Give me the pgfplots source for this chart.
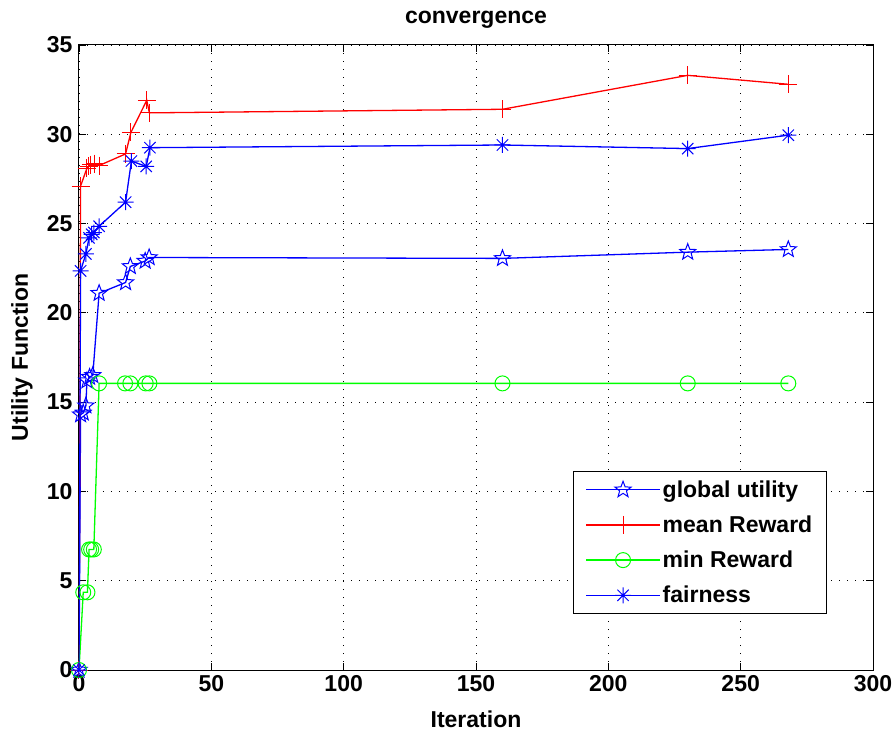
\documentclass[border=0pt]{standalone}
\usepackage{pgfplots}
\pgfplotsset{compat=1.18}
\usepackage{fontspec}
\setmainfont{Liberation Sans}
\usetikzlibrary{plotmarks}

\pgfdeclareplotmark{pentagram}{%
  \pgfpathmoveto{\pgfpointpolar{90}{\pgfplotmarksize}}%
  \pgfpathlineto{\pgfpointpolar{126}{0.42\pgfplotmarksize}}%
  \pgfpathlineto{\pgfpointpolar{162}{\pgfplotmarksize}}%
  \pgfpathlineto{\pgfpointpolar{198}{0.42\pgfplotmarksize}}%
  \pgfpathlineto{\pgfpointpolar{234}{\pgfplotmarksize}}%
  \pgfpathlineto{\pgfpointpolar{270}{0.42\pgfplotmarksize}}%
  \pgfpathlineto{\pgfpointpolar{306}{\pgfplotmarksize}}%
  \pgfpathlineto{\pgfpointpolar{342}{0.42\pgfplotmarksize}}%
  \pgfpathlineto{\pgfpointpolar{18}{\pgfplotmarksize}}%
  \pgfpathlineto{\pgfpointpolar{54}{0.42\pgfplotmarksize}}%
  \pgfpathclose\pgfusepathqstroke}

\pgfdeclareplotmark{matast}{%
  \pgfpathmoveto{\pgfpoint{-\pgfplotmarksize}{0pt}}%
  \pgfpathlineto{\pgfpoint{\pgfplotmarksize}{0pt}}%
  \pgfpathmoveto{\pgfpoint{0pt}{-\pgfplotmarksize}}%
  \pgfpathlineto{\pgfpoint{0pt}{\pgfplotmarksize}}%
  \pgfpathmoveto{\pgfpoint{-0.707\pgfplotmarksize}{-0.707\pgfplotmarksize}}%
  \pgfpathlineto{\pgfpoint{0.707\pgfplotmarksize}{0.707\pgfplotmarksize}}%
  \pgfpathmoveto{\pgfpoint{-0.707\pgfplotmarksize}{0.707\pgfplotmarksize}}%
  \pgfpathlineto{\pgfpoint{0.707\pgfplotmarksize}{-0.707\pgfplotmarksize}}%
  \pgfusepathqstroke}

\definecolor{mblue}{RGB}{0,0,255}
\definecolor{mred}{RGB}{255,0,0}
\definecolor{mgreen}{RGB}{0,255,0}
\newcommand{\bigbf}{\fontsize{23}{27}\selectfont\bfseries}

\begin{document}
\begin{tikzpicture}
\begin{axis}[
  scale only axis,
  width=794pt, height=625pt,
  xmin=0, xmax=300, ymin=0, ymax=35,
  xtick={0,50,...,300}, ytick={0,5,...,35},
  /pgf/number format/assume math mode=true,
  tick label style={font=\bigbf},
  yticklabel style={xshift=-3pt},
  xticklabel style={yshift=-2pt},
  title={convergence},
  xlabel={Iteration}, ylabel={Utility Function},
  every axis title/.style={at={(rel axis cs:0.5,1)}, yshift=25pt, anchor=center, font=\bigbf},
  every axis x label/.style={at={(rel axis cs:0.5,0)}, yshift=-49pt, anchor=center, font=\bigbf},
  every axis y label/.style={at={(rel axis cs:0,0.5)}, xshift=-57pt, rotate=90, anchor=center, font=\bigbf},
  tick align=inside, major tick length=7pt,
  tick style={black, line width=0.8pt},
  axis line style={black, line width=1pt},
  grid=major,
  grid style={black, line width=0.9pt, dash pattern=on 1pt off 7pt},
  legend cell align=left,
  legend style={at={(0.942,0.0896)}, anchor=south east,
    font=\bigbf,
    draw=black, line width=1.3pt, inner xsep=12pt, inner ysep=7pt,
    row sep=13pt},
  legend image code/.code={%
    \draw[#1, line width=1.4pt, mark repeat=2, mark phase=2]
      plot coordinates {(0pt,0pt) (37pt,0pt) (74pt,0pt)};},
]
\addplot[mblue, line width=1.3pt, mark=pentagram, mark size=8.5pt, mark options={solid, line width=1pt}] coordinates {
 (0,0) (0.6,14.3) (1.6,14.4) (2.6,14.8) (3.0,16.2) (4.0,16.4) (5.2,16.5)
 (7.6,21.1) (17.6,21.7) (19.4,22.6) (25.0,22.9) (26.5,23.1)
 (160,23.05) (230,23.4) (268,23.55)};
\addlegendentry{global utility}
\addplot[mred, line width=1.3pt, mark=+, mark size=9pt, mark options={solid, line width=1pt}] coordinates {
 (0,0) (0.6,27.1) (3.0,28.1) (3.6,28.2) (4.4,28.3) (6.0,28.35) (7.6,28.25)
 (17.6,28.9) (19.6,30.1) (25.6,31.9) (26.6,31.2)
 (160,31.4) (230,33.3) (268,32.8)};
\addlegendentry{mean Reward}
\addplot[mgreen, line width=1.3pt, mark=o, mark size=7.5pt, mark options={solid, line width=1pt}] coordinates {
 (0,0) (1.6,4.35) (3.2,4.35) (3.8,6.75) (4.6,6.75) (5.6,6.75)
 (7.6,16.05) (17.4,16.05) (19.4,16.05) (25.2,16.05) (26.6,16.05)
 (160,16.05) (230,16.05) (268,16.05)};
\addlegendentry{min Reward}
\addplot[mblue, line width=1.3pt, mark=matast, mark size=8pt, mark options={solid, line width=1pt}] coordinates {
 (0,0) (0.6,22.35) (2.6,23.3) (3.8,24.2) (4.8,24.4) (5.6,24.5) (7.6,24.85)
 (17.6,26.2) (19.8,28.5) (25.4,28.2) (26.8,29.25)
 (160,29.4) (230,29.2) (268,29.95)};
\addlegendentry{fairness}
\coordinate (O) at (rel axis cs:0,0);
\end{axis}
\pgfresetboundingbox
\path (O) ++(-79pt,-64pt) rectangle ++(896pt,734pt);
\end{tikzpicture}
\end{document}
